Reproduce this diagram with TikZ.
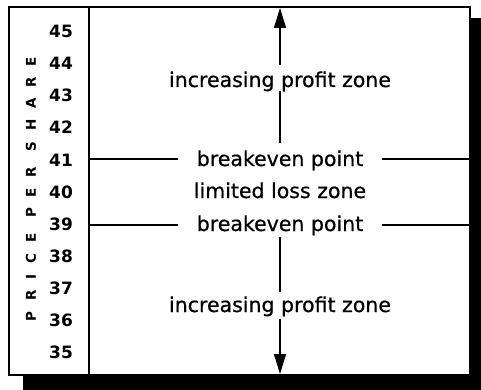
\documentclass[tikz,border=0pt]{standalone}
\usepackage{fontspec}
\setmainfont{DejaVu Sans}
\newfontfamily\zonefont[FakeBold=0.6]{DejaVu Sans}
\usetikzlibrary{arrows.meta}
\tikzset{
  frame/.style={line width=2pt, fill=white},
  zone/.style={inner sep=0pt, anchor=base, font=\zonefont\fontsize{20.5}{24}\selectfont},
  num/.style={inner sep=0pt, anchor=base, font=\fontsize{17}{20}\selectfont\bfseries},
  level/.style={line width=1.3pt},
  vline/.style={line width=1.5pt},
  tip/.style={-{Triangle[length=20pt,width=12pt]}},
}
\begin{document}
\begin{tikzpicture}[x=1pt,y=-1pt]
\useasboundingbox (0,0) rectangle (481,390);
\fill[black] (23,18) rectangle (481,390);
\draw[frame] (9,7) rectangle (470,375);
\coordinate (dtop) at (89,7);
\coordinate (dbot) at (89,375);
\draw[line width=2pt] (dtop) -- (dbot);
% price numbers
\foreach \n [count=\i from 0] in {45,44,43,42,41,40,39,38,37,36,35}
  \node[num] (p\n) at (61,38+32*\i) {\n};
% vertical label
\node[inner sep=0pt, rotate=90, font=\fontsize{13.5}{16}\selectfont\bfseries\addfontfeature{LetterSpace=80}] (lab) at (31,189) {PRICE PER SHARE};
% zone texts
\node[zone] (z1) at (280,87) {increasing profit zone};
\node[zone] (b1) at (280,166) {breakeven point};
\node[zone] (lz) at (280,198) {limited loss zone};
\node[zone] (b2) at (280,231) {breakeven point};
\node[zone] (z2) at (280,312) {increasing profit zone};
% level lines
\coordinate (l41) at (89,159);
\coordinate (r41) at (470,159);
\coordinate (l39) at (89,225);
\coordinate (r39) at (470,225);
\coordinate (l41e) at (178,159);
\coordinate (r41s) at (382,159);
\coordinate (l39e) at (178,225);
\coordinate (r39s) at (382,225);
\draw[level] (l41) -- (l41e);
\draw[level] (r41s) -- (r41);
\draw[level] (l39) -- (l39e);
\draw[level] (r39s) -- (r39);
% arrows
\coordinate (atop) at (280,8);
\coordinate (abot) at (280,374);
\draw[vline, tip, shorten <=6pt] (z1.north) -- (atop);
\draw[vline, shorten >=7pt] (z1.south) -- (b1.north);
\draw[vline, shorten <=2pt, shorten >=4pt] (b2.south) -- (z2.north);
\draw[vline, tip, shorten <=3pt] (z2.south) -- (abot);
\end{tikzpicture}
\end{document}
